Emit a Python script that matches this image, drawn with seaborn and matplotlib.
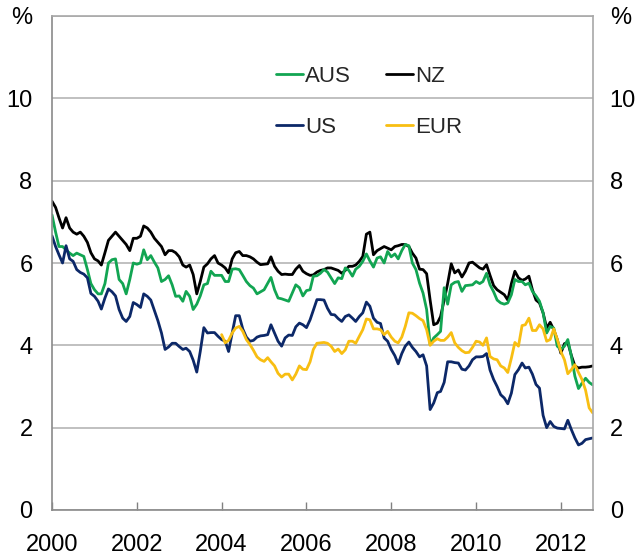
import numpy as np
import pandas as pd
import matplotlib
matplotlib.use("Agg")
import matplotlib.pyplot as plt
import matplotlib.dates as mdates
import seaborn as sns

# Monthly observations, Jan 2000 - Oct 2012 (per cent)
months = pd.date_range("2000-01-01", periods=154, freq="MS")

nz = [7.5, 7.35, 7.1, 6.85, 7.1, 6.85, 6.75, 6.7, 6.75, 6.65, 6.5, 6.25,
      6.1, 6.05, 5.95, 6.25, 6.55, 6.65, 6.75, 6.65, 6.55, 6.45, 6.3, 6.6,
      6.6, 6.65, 6.9, 6.85, 6.75, 6.6, 6.5, 6.4, 6.2, 6.3, 6.3, 6.25,
      6.15, 5.95, 5.9, 5.95, 5.72, 5.25, 5.55, 5.9, 5.98, 6.1, 6.18, 6.0,
      5.95, 5.88, 5.76, 6.1, 6.25, 6.28, 6.18, 6.18, 6.15, 6.1, 6.02, 5.96,
      5.97, 5.98, 6.15, 5.92, 5.8, 5.72, 5.73, 5.72, 5.72, 5.85, 5.94, 5.8,
      5.74, 5.7, 5.71, 5.78, 5.82, 5.84, 5.88, 5.88, 5.85, 5.82, 5.75, 5.82,
      5.92, 5.92, 5.95, 6.04, 6.16, 6.7, 6.75, 6.2, 6.3, 6.35, 6.4, 6.36,
      6.32, 6.4, 6.42, 6.45, 6.45, 6.4, 6.24, 6.12, 5.85, 5.84, 5.74, 5.1,
      4.5, 4.54, 4.7, 5.1, 5.5, 5.98, 5.76, 5.83, 5.66, 5.8, 6.0, 6.02,
      5.95, 5.88, 5.85, 5.96, 5.7, 5.45, 5.35, 5.29, 5.23, 5.1, 5.5, 5.8,
      5.64, 5.58, 5.61, 5.68, 5.35, 5.1, 5.03, 4.79, 4.42, 4.56, 4.38, 4.14,
      3.81, 4.04, 4.07, 3.75, 3.5, 3.45, 3.47, 3.47, 3.48, 3.5]

aus = [7.17, 6.75, 6.4, 6.4, 6.32, 6.24, 6.18, 6.24, 6.2, 6.16, 5.84, 5.5,
       5.35, 5.25, 5.25, 5.5, 6.0, 6.08, 6.1, 5.6, 5.5, 5.25, 5.6, 6.0,
       5.97, 6.0, 6.32, 6.08, 6.18, 6.02, 5.88, 5.55, 5.6, 5.69, 5.47, 5.19,
       5.2, 5.07, 5.31, 5.19, 4.87, 5.0, 5.2, 5.47, 5.5, 5.8, 5.7, 5.7,
       5.7, 5.55, 5.55, 5.85, 5.86, 5.84, 5.7, 5.55, 5.45, 5.39, 5.25, 5.3,
       5.35, 5.51, 5.65, 5.35, 5.15, 5.13, 5.1, 5.07, 5.27, 5.47, 5.4, 5.2,
       5.33, 5.35, 5.68, 5.69, 5.75, 5.84, 5.78, 5.64, 5.5, 5.64, 5.62, 5.88,
       5.82, 5.68, 5.85, 5.92, 6.04, 6.22, 6.05, 5.9, 6.12, 6.15, 6.0, 6.28,
       6.15, 6.22, 6.1, 6.3, 6.45, 6.42, 6.0, 5.84, 5.51, 5.27, 4.87, 4.02,
       4.18, 4.26, 4.34, 5.4, 5.0, 5.47, 5.53, 5.55, 5.31, 5.45, 5.46, 5.47,
       5.55, 5.5, 5.55, 5.75, 5.47, 5.3, 5.1, 5.03, 5.0, 5.03, 5.23, 5.6,
       5.55, 5.55, 5.47, 5.51, 5.31, 5.2, 5.07, 4.79, 4.3, 4.46, 4.42, 3.98,
       3.9, 3.98, 4.14, 3.73, 3.25, 2.95, 3.08, 3.2, 3.1, 3.04]

us = [6.66, 6.4, 6.2, 6.0, 6.42, 6.1, 6.04, 5.84, 5.77, 5.73, 5.64, 5.26,
      5.19, 5.07, 4.88, 5.15, 5.37, 5.3, 5.2, 4.87, 4.66, 4.58, 4.7, 5.04,
      4.99, 4.92, 5.25, 5.19, 5.1, 4.85, 4.6, 4.3, 3.9, 3.96, 4.05, 4.05,
      3.97, 3.9, 3.93, 3.85, 3.64, 3.35, 3.85, 4.43, 4.3, 4.31, 4.31, 4.22,
      4.14, 4.1, 3.85, 4.3, 4.72, 4.72, 4.4, 4.2, 4.1, 4.12, 4.2, 4.23,
      4.24, 4.26, 4.5, 4.3, 4.1, 3.98, 4.18, 4.25, 4.24, 4.45, 4.54, 4.5,
      4.43, 4.62, 4.85, 5.11, 5.11, 5.1, 4.9, 4.75, 4.74, 4.65, 4.58, 4.7,
      4.74, 4.66, 4.58, 4.7, 4.79, 5.05, 4.95, 4.66, 4.56, 4.53, 4.18, 4.1,
      3.9, 3.75, 3.55, 3.8, 3.98, 4.08, 3.95, 3.85, 3.72, 3.77, 3.5, 2.44,
      2.6, 2.85, 2.88, 3.1, 3.6, 3.6, 3.58, 3.57, 3.42, 3.4, 3.5, 3.65,
      3.72, 3.72, 3.73, 3.8, 3.4, 3.17, 3.0, 2.8, 2.72, 2.58, 2.84, 3.29,
      3.41, 3.57, 3.45, 3.47, 3.3, 3.05, 2.96, 2.3, 2.0, 2.15, 2.03, 1.99,
      1.98, 1.97, 2.18, 1.95, 1.75, 1.58, 1.62, 1.71, 1.73, 1.75]

# EUR series begins Jan 2004
eur_months = pd.date_range("2004-01-01", periods=106, freq="MS")
eur = [4.26, 4.06, 4.12, 4.3, 4.42, 4.46, 4.34, 4.14, 4.02, 3.88, 3.72, 3.65,
       3.61, 3.7, 3.6, 3.5, 3.32, 3.23, 3.3, 3.3, 3.16, 3.3, 3.5, 3.42,
       3.41, 3.6, 3.9, 4.05, 4.06, 4.07, 4.05, 3.98, 3.85, 3.91, 3.8, 3.89,
       4.1, 4.1, 4.05, 4.22, 4.38, 4.64, 4.62, 4.4, 4.4, 4.38, 4.26, 4.34,
       4.2, 4.1, 4.06, 4.2, 4.46, 4.79, 4.78, 4.72, 4.65, 4.6, 4.38, 4.0,
       4.1, 4.16, 4.12, 4.12, 4.2, 4.31, 4.06, 3.95, 3.87, 3.82, 3.83, 3.95,
       4.1, 4.08, 4.0, 4.18, 3.73, 3.67, 3.65, 3.5, 3.45, 3.34, 3.69, 4.07,
       3.98, 4.48, 4.5, 4.66, 4.36, 4.36, 4.5, 4.4, 4.1, 4.14, 4.4, 4.15,
       3.85, 3.65, 3.31, 3.41, 3.53, 3.34, 3.17, 2.91, 2.48, 2.36]

series_names = ["NZ", "AUS", "US", "EUR"]
legend_order = ["AUS", "US", "NZ", "EUR"]
colors = {"AUS": "#12a552", "NZ": "#000000", "US": "#0c2868", "EUR": "#f8be12"}
y_ticks = [0, 2, 4, 6, 8, 10, 12]
y_labels = ["0", "2", "4", "6", "8", "10", "%"]
x_years = [2000, 2002, 2004, 2006, 2008, 2010, 2012]

df = pd.concat([
    pd.DataFrame({"date": months, "value": nz, "series": "NZ"}),
    pd.DataFrame({"date": months, "value": aus, "series": "AUS"}),
    pd.DataFrame({"date": months, "value": us, "series": "US"}),
    pd.DataFrame({"date": eur_months, "value": eur, "series": "EUR"}),
], ignore_index=True)

sns.set_theme(style="white")
plt.rcParams["font.family"] = ["Liberation Sans", "DejaVu Sans"]

W, H = 640, 558
fig = plt.figure(figsize=(W / 100, H / 100), dpi=100)
ax = fig.add_axes([52 / W, 48 / H, 541 / W, 494 / H])

sns.lineplot(data=df, x="date", y="value", hue="series", hue_order=series_names,
             palette=colors, estimator=None, linewidth=2.0, ax=ax, legend=False)

ax.set_xlim(pd.Timestamp("2000-01-01"), pd.Timestamp("2012-10-04"))
ax.set_ylim(0, 12)
ax.set_xlabel("")
ax.set_ylabel("")

ax.set_xticks([pd.Timestamp(f"{y}-01-01") for y in x_years])
ax.xaxis.set_major_formatter(mdates.DateFormatter("%Y"))
ax.set_yticks(y_ticks)
ax.set_yticklabels(y_labels)
ax.yaxis.grid(True, color="#b5b5b5", linewidth=1.2)
ax.set_axisbelow(True)

ax.tick_params(axis="x", direction="in", length=6, width=1, color="#808080",
               labelsize=17, pad=17, labelcolor="black", bottom=True)
ax.tick_params(axis="y", length=0, labelsize=17, pad=14, labelcolor="black", left=True)

for side, sp in ax.spines.items():
    sp.set_visible(True)
    sp.set_linewidth(1.2)
    sp.set_color("#8a8a8a" if side in ("left", "bottom") else "#a8a8a8")

ax2 = ax.twinx()
ax2.set_ylim(0, 12)
ax2.set_yticks(y_ticks)
ax2.set_yticklabels(y_labels)
ax2.tick_params(axis="y", length=0, labelsize=17, pad=12, labelcolor="black", right=True)
for sp in ax2.spines.values():
    sp.set_visible(False)
ax2.grid(False)

handles = [matplotlib.lines.Line2D([], [], color=colors[n], linewidth=2.0)
           for n in legend_order]
fig.legend(handles, legend_order, ncol=2, loc="upper left",
           bbox_to_anchor=(276 / W, 1 - 66 / H), frameon=False,
           fontsize=16, handlelength=1.2, handletextpad=0.1,
           columnspacing=1.6, labelspacing=1.34, borderpad=0, borderaxespad=0)

fig.savefig("out.png", dpi=100)
